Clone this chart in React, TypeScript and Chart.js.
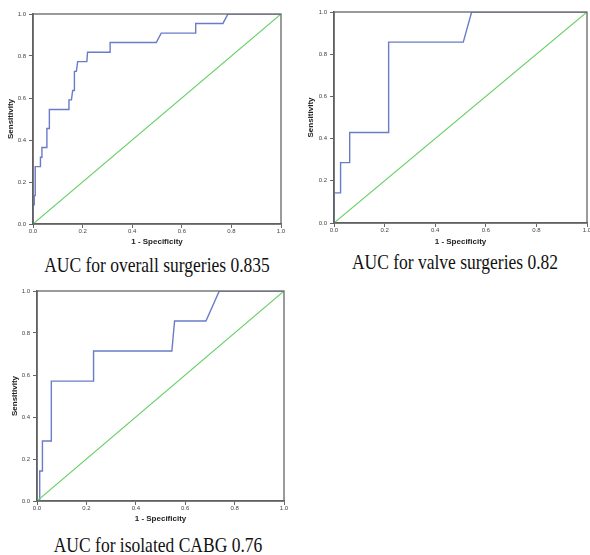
import React, { useEffect, useRef } from "react";
import { Chart, registerables } from "chart.js";

Chart.register(...registerables);

const tickValues = [0, 0.2, 0.4, 0.6, 0.8, 1.0];
const xTitle = "1 - Specificity";
const yTitle = "Sensitivity";

const overallFpr = [0, 0, 0.005, 0.005, 0.009, 0.009, 0.03, 0.03, 0.036, 0.036, 0.056, 0.056, 0.066, 0.066, 0.145, 0.145, 0.155, 0.16, 0.167, 0.167, 0.175, 0.18, 0.217, 0.22, 0.311, 0.311, 0.497, 0.517, 0.654, 0.656, 0.766, 0.786, 1];
const overallTpr = [0, 0.091, 0.091, 0.136, 0.136, 0.273, 0.273, 0.318, 0.318, 0.364, 0.364, 0.455, 0.455, 0.545, 0.545, 0.591, 0.591, 0.636, 0.636, 0.727, 0.727, 0.773, 0.773, 0.818, 0.818, 0.864, 0.864, 0.909, 0.909, 0.955, 0.955, 1, 1];

const valveFpr = [0, 0, 0.026, 0.026, 0.062, 0.062, 0.216, 0.216, 0.511, 0.544, 1];
const valveTpr = [0, 0.143, 0.143, 0.286, 0.286, 0.429, 0.429, 0.857, 0.857, 1, 1];

const cabgFpr = [0, 0.011, 0.011, 0.022, 0.022, 0.058, 0.058, 0.229, 0.229, 0.546, 0.557, 0.684, 0.738, 1];
const cabgTpr = [0, 0, 0.143, 0.143, 0.286, 0.286, 0.571, 0.571, 0.714, 0.714, 0.857, 0.857, 1, 1];

const refFpr = [0, 1];
const refTpr = [0, 1];

const captions = [
  "AUC for overall surgeries 0.835",
  "AUC for valve surgeries 0.82",
  "AUC for isolated CABG 0.76",
];

type Layout = {
  left: number; top: number; width: number; height: number;
  yWidth: number; xHeight: number; padTop: number; padRight: number;
  yTitlePad: number; xTitlePad: number;
};

const framePlugin = {
  id: "frame",
  afterDatasetsDraw(chart: any) {
    const { ctx, chartArea } = chart;
    ctx.save();
    ctx.strokeStyle = "#666666";
    ctx.lineWidth = 1.3;
    ctx.strokeRect(chartArea.left, chartArea.top, chartArea.right - chartArea.left, chartArea.bottom - chartArea.top);
    ctx.restore();
  },
};

function RocChart({ fpr, tpr, layout }: { fpr: number[]; tpr: number[]; layout: Layout }) {
  const ref = useRef<HTMLCanvasElement | null>(null);
  useEffect(() => {
    if (!ref.current) return;
    const curve = fpr.map((x, i) => ({ x, y: tpr[i] }));
    const diag = refFpr.map((x, i) => ({ x, y: refTpr[i] }));
    const tickFont = { family: "Arial, 'Liberation Sans', sans-serif", size: 6 };
    const titleFont = { family: "Arial, 'Liberation Sans', sans-serif", size: 8, weight: "bold" as const };
    const chart = new Chart(ref.current, {
      type: "scatter",
      data: {
        datasets: [
          { data: diag, showLine: true, borderColor: "#66d066", borderWidth: 1.1, pointRadius: 0, tension: 0 },
          { data: curve, showLine: true, borderColor: "#6a7bc8", borderWidth: 1.4, pointRadius: 0, tension: 0 },
        ],
      },
      options: {
        animation: false,
        responsive: false,
        maintainAspectRatio: false,
        layout: { padding: { left: 0, right: layout.padRight, top: layout.padTop, bottom: 0 } },
        plugins: { legend: { display: false }, tooltip: { enabled: false } },
        scales: {
          x: {
            type: "linear",
            min: 0,
            max: 1,
            afterBuildTicks: (axis: any) => { axis.ticks = tickValues.map((v) => ({ value: v })); },
            afterFit: (axis: any) => { axis.height = layout.xHeight; },
            ticks: { font: tickFont, color: "#444", padding: 0, maxRotation: 0, callback: (v: any) => Number(v).toFixed(1) },
            grid: { drawOnChartArea: false, drawTicks: true, tickLength: 4, color: "#666" },
            border: { display: true, color: "#5a5a5a", width: 1.6 },
            title: { display: true, text: xTitle, font: titleFont, color: "#222", padding: { top: 0, bottom: layout.xTitlePad } },
          },
          y: {
            type: "linear",
            min: 0,
            max: 1,
            afterBuildTicks: (axis: any) => { axis.ticks = tickValues.map((v) => ({ value: v })); },
            afterFit: (axis: any) => { axis.width = layout.yWidth; },
            ticks: { font: tickFont, color: "#444", padding: 3, callback: (v: any) => Number(v).toFixed(1) },
            grid: { drawOnChartArea: false, drawTicks: true, tickLength: 4, color: "#666" },
            border: { display: true, color: "#5a5a5a", width: 1.6 },
            title: { display: true, text: yTitle, font: titleFont, color: "#222", padding: { top: layout.yTitlePad, bottom: 0 } },
          },
        },
      },
      plugins: [framePlugin],
    });
    return () => chart.destroy();
  }, []);
  return (
    <div style={{ position: "absolute", left: layout.left, top: layout.top, width: layout.width, height: layout.height }}>
      <canvas ref={ref} width={layout.width} height={layout.height} style={{ width: layout.width, height: layout.height }} />
    </div>
  );
}

const captionStyle = (centerX: number, top: number): React.CSSProperties => ({
  position: "absolute",
  left: centerX - 160,
  width: 320,
  top,
  textAlign: "center",
  fontFamily: "'Liberation Serif', 'Times New Roman', serif",
  fontSize: 17.5,
  lineHeight: "20px",
  color: "#111",
  whiteSpace: "nowrap",
  transform: "scaleY(1.15)",
  transformOrigin: "50% 50%",
});

export default function App() {
  const l1: Layout = { left: 0, top: 0, width: 295, height: 250, yWidth: 33, xHeight: 26, padTop: 14, padRight: 14, yTitlePad: 6, xTitlePad: 3 };
  const l2: Layout = { left: 295, top: 0, width: 320, height: 250, yWidth: 39, xHeight: 27, padTop: 12, padRight: 28, yTitlePad: 11, xTitlePad: 3.5 };
  const l3: Layout = { left: 0, top: 280, width: 295, height: 250, yWidth: 37, xHeight: 29, padTop: 11, padRight: 11, yTitlePad: 10, xTitlePad: 6 };
  return (
    <div style={{ position: "fixed", left: 0, top: 0, width: 590, height: 555, overflow: "hidden", background: "#fff" }}>
      <RocChart fpr={overallFpr} tpr={overallTpr} layout={l1} />
      <RocChart fpr={valveFpr} tpr={valveTpr} layout={l2} />
      <RocChart fpr={cabgFpr} tpr={cabgTpr} layout={l3} />
      <div style={captionStyle(157, 255)}>{captions[0]}</div>
      <div style={captionStyle(455, 252)}>{captions[1]}</div>
      <div style={captionStyle(158, 535)}>{captions[2]}</div>
    </div>
  );
}
